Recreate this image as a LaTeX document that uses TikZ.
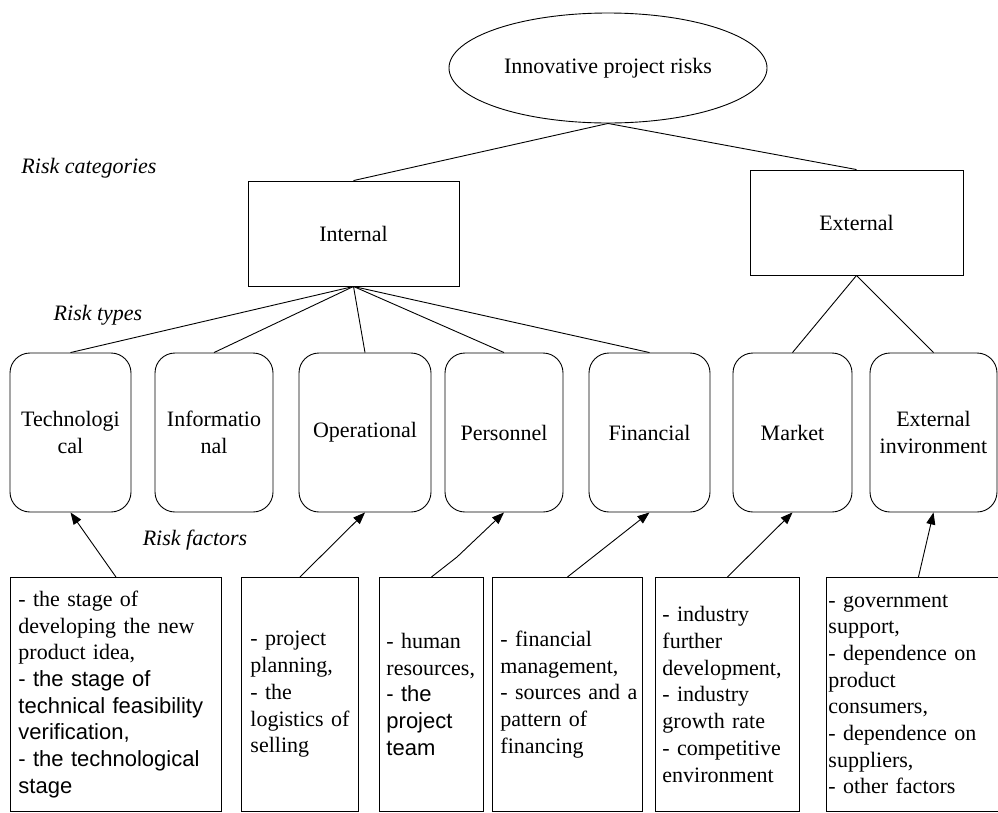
\documentclass[tikz,border=0pt]{standalone}
\usepackage{fontspec}
\setmainfont{Liberation Serif}
\setsansfont{Liberation Sans}
\usetikzlibrary{arrows.meta,shapes.geometric}
\hyphenpenalty=10000

\tikzset{
  catbox/.style={draw, minimum height=105pt, inner sep=0pt},
  typebox/.style={draw, rounded corners=20pt, minimum height=159pt, inner sep=0pt, align=center},
  factorbox/.style={draw, anchor=north west, minimum height=234pt, inner ysep=0pt, align=left},
  levelname/.style={font=\fontsize{22pt}{26.7pt}\selectfont\itshape},
  factorarrow/.style={-{Triangle[length=12pt,width=9pt]}}
}

\begin{document}
\begin{tikzpicture}[x=1pt, y=-1pt, line width=0.9pt, font=\fontsize{22pt}{26.7pt}\selectfont]
        \useasboundingbox (0,0) rectangle (998,812);

        \node[ellipse, draw, minimum width=318pt, minimum height=110pt, inner sep=0pt] (risks) at (608, 68) {Innovative project risks};

        \node[levelname] (catLabel) at (89, 168) {Risk categories};
        \node[levelname] (typeLabel) at (98, 315) {Risk types};
        \node[levelname] (factorLabel) at (195, 540) {Risk factors};

        \node[catbox, minimum width=211pt] (internal) at (353.5, 233.5) {Internal};
        \node[catbox, minimum width=213pt] (external) at (856.5, 222.5) {External};

        \node[typebox, minimum width=121pt] (tech) at (70.5, 432.5) {Technologi\\cal};
        \node[typebox, minimum width=118pt] (info) at (214, 432.5) {Informatio\\nal};
        \node[typebox, minimum width=132pt] (oper) at (365, 432.5) {Operational};
        \node[typebox, minimum width=118pt] (pers) at (504, 432.5) {Personnel};
        \node[typebox, minimum width=121pt] (fin) at (649.5, 432.5) {Financial};
        \node[typebox, minimum width=119pt] (market) at (792.5, 432.5) {Market};
        \node[typebox, minimum width=127pt] (env) at (933.5, 432.5) {External\\invironment};

        \node[factorbox, text width=195pt, inner xsep=8pt] (fTech) at (10, 577) {- the stage of\\developing the new\\product idea,\\\sffamily - the stage of\\technical feasibility\\verification,\\- the technological\\stage};
        \node[factorbox, text width=99pt, inner xsep=9pt] (fOper) at (241, 577) {- project\\planning,\\- the\\logistics of\\selling};
        \node[factorbox, text width=90pt, inner xsep=7pt] (fPers) at (379, 577) {- human\\resources,\\\sffamily - the\\project\\team};
        \node[factorbox, text width=142pt, inner xsep=4pt] (fFin) at (492, 577) {\hspace*{4pt}- financial\\\hspace*{4pt}management,\\\hspace*{4pt}- sources and a\\\hspace*{4pt}pattern of\\\hspace*{4pt}financing};
        \node[factorbox, text width=130pt, inner xsep=7pt] (fMarket) at (655, 577) {- industry\\further\\development,\\- industry\\growth rate\\- competitive\\environment};
        \node[factorbox, text width=180pt, inner xsep=2pt] (fEnv) at (826, 577) {- government\\support,\\- dependence on\\product\\consumers,\\- dependence on\\suppliers,\\- other factors};

        \coordinate (persBend) at (457, 557);

        \draw (risks.south) -- (internal.north);
        \draw (risks.south) -- (external.north);
        \foreach \t in {tech, info, oper, pers, fin}
            \draw (internal.south) -- (\t.north);
        \foreach \t in {market, env}
            \draw (external.south) -- (\t.north);

        \draw[factorarrow] (fTech.north) -- (tech.south);
        \draw[factorarrow] (fOper.north) -- (oper.south);
        \draw[factorarrow] (fPers.north) -- (persBend) -- (pers.south);
        \draw[factorarrow] (fFin.north) -- (fin.south);
        \draw[factorarrow] (fMarket.north) -- (market.south);
        \draw[factorarrow] (fEnv.north) -- (env.south);
    \end{tikzpicture}
\end{document}
